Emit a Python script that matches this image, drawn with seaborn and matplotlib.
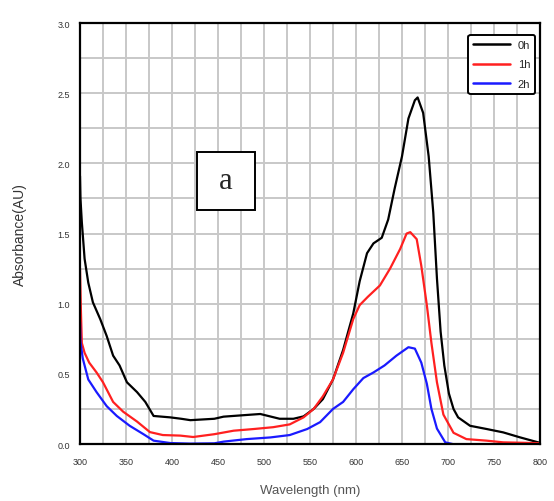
import seaborn as sns
import matplotlib.pyplot as plt
from matplotlib.patches import Rectangle
import pandas as pd

# wavelength (nm) / absorbance
wl_0h = [300, 300.5, 302, 305, 309, 314, 322, 329, 336, 343, 351, 362, 371, 380, 398, 410, 420,
         446, 456, 481, 496, 517, 532, 543, 554, 564, 575, 586, 597, 604, 612, 619, 628, 635,
         642, 650, 657, 664, 667, 673, 679, 684, 688, 692, 696, 701, 706, 711, 724, 742, 760,
         778, 798, 800]
abs_0h = [1.91, 1.75, 1.58, 1.32, 1.15, 1.01, 0.89, 0.77, 0.63, 0.56, 0.44, 0.37, 0.30, 0.20,
          0.19, 0.18, 0.17, 0.18, 0.195, 0.207, 0.214, 0.18, 0.18, 0.197, 0.25, 0.32, 0.46,
          0.67, 0.93, 1.16, 1.36, 1.43, 1.47, 1.60, 1.82, 2.05, 2.32, 2.45, 2.47, 2.36, 2.05,
          1.65, 1.18, 0.80, 0.56, 0.36, 0.25, 0.19, 0.13, 0.107, 0.083, 0.048, 0.012, 0.01]

wl_1h = [300, 301, 302, 305, 310, 318, 325, 336, 347, 362, 376, 390, 409, 423, 446, 467, 489,
         510, 528, 543, 554, 564, 575, 586, 597, 604, 613, 626, 637, 648, 655, 659, 666, 671,
         677, 682, 688, 695, 706, 720, 742, 760, 800]
abs_1h = [1.25, 0.95, 0.72, 0.65, 0.58, 0.51, 0.44, 0.30, 0.23, 0.16, 0.085, 0.064, 0.06, 0.05,
          0.07, 0.095, 0.107, 0.12, 0.14, 0.19, 0.25, 0.34, 0.46, 0.65, 0.89, 0.99, 1.05, 1.13,
          1.25, 1.39, 1.50, 1.51, 1.46, 1.27, 0.99, 0.72, 0.44, 0.21, 0.08, 0.035, 0.024, 0.012,
          0.006]

wl_2h = [300, 300.5, 303, 309, 318, 329, 340, 354, 369, 380, 398, 420, 446, 456, 481, 507, 528,
         547, 561, 575, 586, 597, 608, 619, 631, 644, 657, 664, 671, 677, 682, 688, 697, 705]
abs_2h = [0.87, 0.73, 0.61, 0.46, 0.37, 0.27, 0.20, 0.13, 0.07, 0.024, 0.007, 0.003, 0.005,
          0.017, 0.035, 0.047, 0.064, 0.107, 0.156, 0.25, 0.30, 0.39, 0.47, 0.51, 0.56, 0.63,
          0.69, 0.68, 0.58, 0.43, 0.25, 0.11, 0.012, 0.0]

series_names = ["0h", "1h", "2h"]
colors = ["black", "#ff2020", "#1a1aff"]

frames = []
for name, wl, ab in zip(series_names, [wl_0h, wl_1h, wl_2h], [abs_0h, abs_1h, abs_2h]):
    frames.append(pd.DataFrame({"Wavelength": wl, "Absorbance": ab, "time": name}))
df = pd.concat(frames, ignore_index=True)

sns.set_style("white")
plt.rcParams['font.family'] = ['Liberation Sans', 'DejaVu Sans']

fig = plt.figure(figsize=(5.54, 5.02), dpi=100)
ax = fig.add_axes([0.1444, 0.1135, 0.8303, 0.8385])

sns.lineplot(data=df, x="Wavelength", y="Absorbance", hue="time", palette=colors,
             sort=False, estimator=None, linewidth=1.6, ax=ax)

ax.set_xlim(300, 800)
ax.set_ylim(0, 3.0)
ax.set_xticks(range(300, 801, 50))
ax.set_xticks(range(325, 800, 50), minor=True)
ax.set_yticks([0, 0.5, 1.0, 1.5, 2.0, 2.5, 3.0])
ax.set_yticks([0.25, 0.75, 1.25, 1.75, 2.25, 2.75], minor=True)
ax.set_yticklabels(["0.0", "0.5", "1.0", "1.5", "2.0", "2.5", "3.0"])
ax.grid(True, which="both", color="#c8c8c8", linewidth=1.4)
ax.set_axisbelow(True)
ax.tick_params(axis="both", which="both", direction="out", length=3.5, width=1.2,
               labelsize=6.5, labelcolor="#333333", color="black")
ax.tick_params(axis="x", pad=6)
for sp in ax.spines.values():
    sp.set_color("black")
    sp.set_linewidth(1.6)

ax.set_xlabel("Wavelength (nm)", fontsize=9.5, color="#555555", labelpad=13)
ax.set_ylabel("Absorbance(AU)", fontsize=10, color="#333333", labelpad=22)

# panel label "a" in a square box
ax.add_patch(Rectangle((427, 1.67), 63, 0.41, facecolor="white", edgecolor="black",
                       linewidth=1.4, zorder=5))
ax.text(458.5, 1.875, "a", fontsize=22, family="Liberation Serif", ha="center",
        va="center", zorder=6)

leg = ax.legend(loc="upper right", fontsize=8, handlelength=3.3, frameon=True,
                borderpad=0.45, labelspacing=0.85, handletextpad=0.7,
                bbox_to_anchor=(1.002, 0.985), fancybox=True)
leg.get_frame().set_edgecolor("black")
leg.get_frame().set_linewidth(1.4)
leg.get_frame().set_alpha(1)
for line in leg.get_lines():
    line.set_linewidth(1.8)

fig.savefig("out.png", dpi=100)
